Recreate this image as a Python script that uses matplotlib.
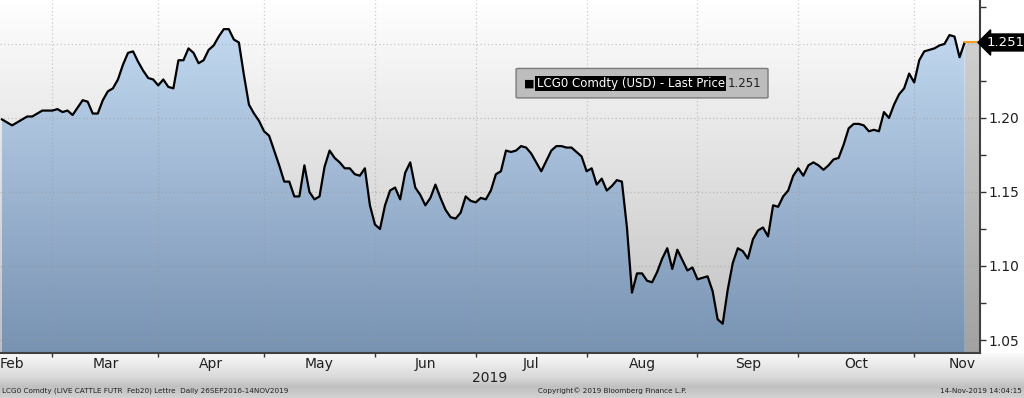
import numpy as np
import matplotlib.pyplot as plt
from matplotlib.colors import LinearSegmentedColormap
from matplotlib.patches import FancyBboxPatch
from matplotlib.path import Path

# LCG0 Comdty last price, one value per trading day (mid Feb -> 14 Nov 2019)
prices = [
    1.199, 1.197, 1.195, 1.197, 1.199, 1.201, 1.201, 1.203, 1.205, 1.205,
    1.205, 1.206, 1.204, 1.205, 1.202, 1.207, 1.212, 1.211, 1.203, 1.203,
    1.212, 1.218, 1.220, 1.226, 1.236, 1.244, 1.245, 1.238, 1.232, 1.227,
    1.226, 1.222, 1.226, 1.221, 1.220, 1.239, 1.239, 1.247, 1.244, 1.237,
    1.239, 1.246, 1.249, 1.255, 1.260, 1.260, 1.253, 1.251, 1.229, 1.209,
    1.203, 1.198, 1.191, 1.188, 1.178, 1.168, 1.157, 1.157, 1.147, 1.147,
    1.168, 1.150, 1.145, 1.147, 1.167, 1.178, 1.173, 1.170, 1.166, 1.166,
    1.162, 1.161, 1.166, 1.141, 1.128, 1.125, 1.141, 1.151, 1.153, 1.145,
    1.163, 1.170, 1.153, 1.148, 1.141, 1.146, 1.155, 1.146, 1.138, 1.133,
    1.132, 1.136, 1.147, 1.144, 1.143, 1.146, 1.145, 1.151, 1.162, 1.164,
    1.178, 1.177, 1.178, 1.181, 1.180, 1.176, 1.170, 1.164, 1.171, 1.178,
    1.181, 1.181, 1.180, 1.180, 1.177, 1.174, 1.164, 1.166, 1.155, 1.159,
    1.151, 1.154, 1.158, 1.157, 1.126, 1.082, 1.095, 1.095, 1.090, 1.089,
    1.096, 1.105, 1.112, 1.098, 1.111, 1.104, 1.097, 1.099, 1.091, 1.092,
    1.093, 1.083, 1.064, 1.061, 1.084, 1.102, 1.112, 1.110, 1.105, 1.118,
    1.124, 1.126, 1.120, 1.141, 1.140, 1.147, 1.151, 1.161, 1.166, 1.161,
    1.168, 1.170, 1.168, 1.165, 1.168, 1.172, 1.173, 1.182, 1.193, 1.196,
    1.196, 1.195, 1.191, 1.192, 1.191, 1.204, 1.200, 1.209, 1.216, 1.220,
    1.230, 1.224, 1.239, 1.245, 1.246, 1.247, 1.249, 1.250, 1.256, 1.255,
    1.241, 1.251,
]
last_price = 1.251

months = ['Feb', 'Mar', 'Apr', 'May', 'Jun', 'Jul', 'Aug', 'Sep', 'Oct', 'Nov']
# trading-day index of the first day of Mar ... Nov
month_starts = [10, 31, 52, 74, 94, 116, 138, 158, 181]

y_ticks = [1.05, 1.10, 1.15, 1.20, 1.25]
y_labels = ['1.05', '1.10', '1.15', '1.20', '']
y_minor = [1.075, 1.125, 1.175, 1.225, 1.275]

x = np.arange(len(prices))
xmin, xmax = -0.4, 194.05
ymin, ymax = 1.0412, 1.2797
grad = np.linspace(0, 1, 256).reshape(-1, 1)

fig = plt.figure(figsize=(10.24, 3.98), dpi=100)
fig.patch.set_facecolor('white')

# bottom band (date axis + footer)
band = fig.add_axes([0, 0, 1, 0.113])
band_cmap = LinearSegmentedColormap.from_list(
    'band', [(0, '#d2d2d2'), (0.25, '#c0c0c0'), (0.45, '#d8d8d8'), (1, '#fafafa')])
band.imshow(grad, cmap=band_cmap, origin='lower', aspect='auto', extent=[0, 1, 0, 1])
band.set_xlim(0, 1)
band.set_ylim(0, 1)
band.axis('off')
band.set_zorder(0)

ax = fig.add_axes([0, 0.113, 0.957, 0.887])
ax.set_zorder(1)
ax.set_xlim(xmin, xmax)
ax.set_ylim(ymin, ymax)

bg_cmap = LinearSegmentedColormap.from_list('bg', ['#c0c0c0', '#ffffff'])
ax.imshow(grad, cmap=bg_cmap, extent=[xmin, xmax, ymin, ymax], origin='lower',
          aspect='auto', zorder=0)

# blue gradient under the price line
blue_cmap = LinearSegmentedColormap.from_list('blue', ['#7892b2', '#c9dff6'])
img = ax.imshow(grad, cmap=blue_cmap, extent=[xmin, xmax, ymin, ymax], origin='lower',
                aspect='auto', zorder=1)
verts = [(x[0], ymin)] + list(zip(x, prices)) + [(x[-1], ymin), (x[0], ymin)]
img.set_clip_path(Path(verts, closed=True), ax.transData)

# grey strip after the last price
grey_cmap = LinearSegmentedColormap.from_list('grey', ['#a2a2a2', '#d6d6d6'])
img2 = ax.imshow(grad, cmap=grey_cmap, extent=[xmin, xmax, ymin, ymax], origin='lower',
                 aspect='auto', zorder=1)
strip = [(x[-1], ymin), (x[-1], last_price), (xmax, last_price), (xmax, ymin), (x[-1], ymin)]
img2.set_clip_path(Path(strip, closed=True), ax.transData)

ax.plot(x, prices, color='black', lw=1.6, zorder=4)
ax.plot([x[-1], xmax], [last_price, last_price], color='#f0a020', lw=1.5, zorder=4)

# axes / ticks
ax.set_xticks(month_starts)
ax.set_xticklabels([])
ax.yaxis.tick_right()
ax.set_yticks(y_ticks)
ax.set_yticklabels(y_labels)
ax.set_yticks(y_minor, minor=True)
ax.tick_params(axis='y', which='both', direction='out', length=4, width=1,
               color='#333333', labelsize=10, labelcolor='#202020', pad=2)
ax.tick_params(axis='x', direction='out', length=3, width=1, color='#333333')
ax.grid(True, which='major', ls=(0, (1, 2)), color='#999999', alpha=0.5, lw=0.9, zorder=2)
for s in ['top', 'left']:
    ax.spines[s].set_visible(False)
for s in ['right', 'bottom']:
    ax.spines[s].set_color('#404040')
    ax.spines[s].set_linewidth(1.5)
    ax.spines[s].set_zorder(5)

# month labels
bounds = [xmin] + month_starts + [xmax]
for i, m in enumerate(months):
    if i == 0:
        xpos, ha = xmin, 'left'
    elif i == len(months) - 1:
        xpos, ha = xmax - 0.8, 'right'
    else:
        xpos, ha = (bounds[i] + bounds[i + 1]) / 2, 'center'
    ax.text(xpos, -0.012, m, transform=ax.get_xaxis_transform(), ha=ha,
            va='top', fontsize=10, color='#202020')
fig.text(0.478, 0.05, '2019', ha='center', va='center', fontsize=10, color='#202020')

# last price marker on the right axis
ax.annotate('1.251', xy=(1.0, last_price), xycoords=('axes fraction', 'data'),
            xytext=(5, 0), textcoords='offset points', ha='left', va='center',
            fontsize=9.5, color='white',
            bbox=dict(boxstyle='larrow,pad=0.15', fc='black', ec='black'),
            annotation_clip=False, zorder=6)

# legend box
fig.patches.append(FancyBboxPatch((0.506, 0.756), 0.242, 0.07, boxstyle='round,pad=0.002',
                                  transform=fig.transFigure, fc='#bdbdbd', ec='#7a7a7a',
                                  lw=1, zorder=10))
fig.text(0.512, 0.79, '\u25a0', fontsize=8, color='black', va='center', ha='left', zorder=11)
fig.text(0.524, 0.79, 'LCG0 Comdty (USD) - Last Price', fontsize=8.5, color='white',
         va='center', ha='left', zorder=11,
         bbox=dict(boxstyle='square,pad=0.1', fc='black', ec='none'))
fig.text(0.711, 0.79, '1.251', fontsize=8.5, color='#202020', va='center', ha='left', zorder=11)

# footer
fig.text(0.002, 0.018, 'LCG0 Comdty (LIVE CATTLE FUTR  Feb20) Lettre  Daily 26SEP2016-14NOV2019',
         fontsize=5.2, color='#202020', ha='left', va='center')
fig.text(0.525, 0.018, 'Copyright\u00a9 2019 Bloomberg Finance L.P.', fontsize=5.2,
         color='#202020', ha='left', va='center')
fig.text(0.998, 0.018, '14-Nov-2019 14:04:15', fontsize=5.2, color='#202020',
         ha='right', va='center')

fig.savefig('out.png', dpi=100)
